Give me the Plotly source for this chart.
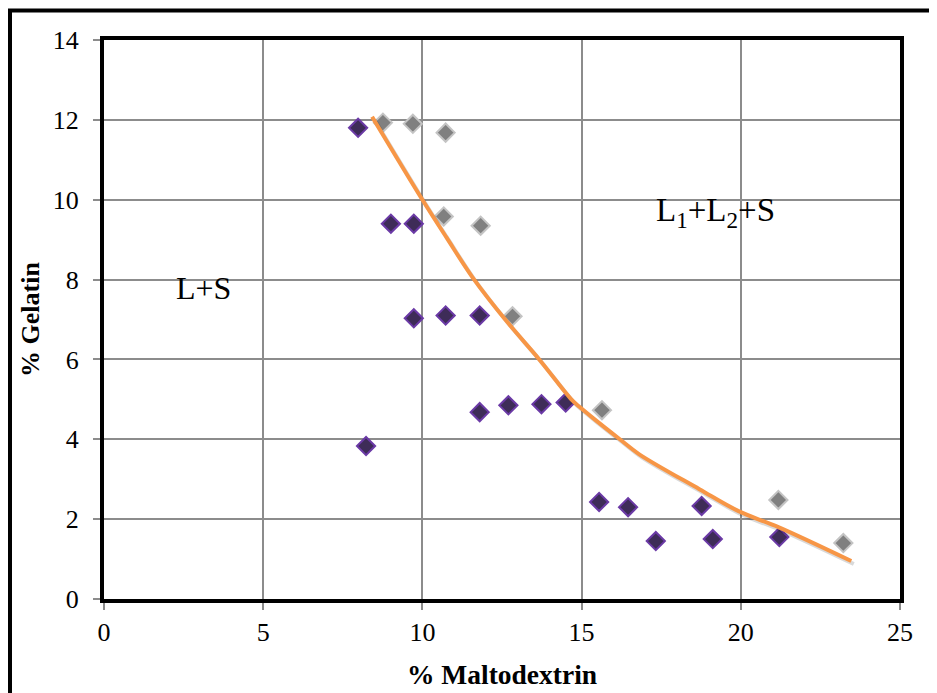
import plotly.graph_objects as go

# Data
purple_x = [7.98, 9.01, 9.73, 9.73, 10.73, 11.80, 11.80, 12.70, 13.74, 14.50, 8.23, 15.55, 16.46, 17.33, 18.77, 19.12, 21.21]
purple_y = [11.80, 9.40, 9.40, 7.03, 7.10, 7.10, 4.68, 4.85, 4.88, 4.92, 3.83, 2.43, 2.30, 1.45, 2.33, 1.50, 1.55]

gray_x = [8.76, 9.70, 10.73, 10.67, 11.83, 12.83, 15.64, 21.18, 23.22]
gray_y = [11.93, 11.90, 11.68, 9.58, 9.35, 7.08, 4.73, 2.48, 1.40]

curve_x = [8.42, 10.0, 10.76, 11.58, 12.64, 13.67, 14.7, 14.95, 15.36, 16.2, 16.8, 18.7, 19.93, 21.18, 23.47]
curve_y = [12.08, 10.0, 9.05, 8.05, 6.96, 6.0, 4.98, 4.80, 4.53, 4.0, 3.63, 2.75, 2.2, 1.8, 0.95]

x_ticks = [0, 5, 10, 15, 20, 25]
y_ticks = [0, 2, 4, 6, 8, 10, 12, 14]

FONT = "Liberation Serif"

# page offset (body margin) = 8 px
OFF = 8
W, H = 937 - OFF, 693 - OFF
L, T = 104 - OFF, 40 - OFF
PW, PH = 796, 559

fig = go.Figure()

fig.add_trace(go.Scatter(
    x=purple_x, y=purple_y, mode="markers",
    marker=dict(symbol="diamond", size=14, color="#3e2c58",
                line=dict(color="#6b3aa6", width=2)),
    showlegend=False))

fig.add_trace(go.Scatter(
    x=gray_x, y=gray_y, mode="markers",
    marker=dict(symbol="diamond", size=14, color="#808080",
                line=dict(color="#c4c4c4", width=2)),
    showlegend=False))

# soft shadow of the curve (drawn on shifted overlay axes)
fig.add_trace(go.Scatter(
    x=curve_x, y=curve_y, mode="lines", xaxis="x2", yaxis="y2",
    line=dict(color="rgba(0,0,0,0.15)", width=4, shape="spline", smoothing=1.0),
    hoverinfo="skip", showlegend=False))

fig.add_trace(go.Scatter(
    x=curve_x, y=curve_y, mode="lines", xaxis="x3", yaxis="y3",
    line=dict(color="#f79646", width=4, shape="spline", smoothing=1.0),
    showlegend=False))

px_per_x = PW / 25
px_per_y = PH / 14
dx = 2.5 / px_per_x
dy = 3 / px_per_y

axis_common = dict(
    showgrid=True, gridcolor="#8c8c8c", gridwidth=1.5,
    showline=True, linecolor="black", linewidth=4, mirror=True,
    ticks="outside", ticklen=7, tickcolor="#8c8c8c", tickwidth=1.5,
    zeroline=False, tickfont=dict(family=FONT, size=26), automargin=False,
)

fig.update_layout(
    width=W, height=H,
    margin=dict(l=L, r=W - L - PW, t=T, b=H - T - PH),
    paper_bgcolor="white", plot_bgcolor="white",
    font=dict(family=FONT, size=26, color="black"),
    xaxis=dict(range=[0, 25], tickvals=x_ticks, ticktext=[str(v) for v in x_ticks],
               title=dict(text="<b>% Maltodextrin</b>", font=dict(family=FONT, size=27.5), standoff=20),
               **axis_common),
    yaxis=dict(range=[0, 14], tickvals=y_ticks, ticktext=[str(v) for v in y_ticks],
               ticklabelstandoff=9,
               title=dict(text="<b>% Gelatin</b>", font=dict(family=FONT, size=26), standoff=7),
               **axis_common),
    xaxis2=dict(range=[0 - dx, 25 - dx], overlaying="x", visible=False),
    yaxis2=dict(range=[0 + dy, 14 + dy], overlaying="y", visible=False),
    xaxis3=dict(range=[0, 25], overlaying="x", visible=False),
    yaxis3=dict(range=[0, 14], overlaying="y", visible=False),
    annotations=[
        dict(x=3.11, y=7.79, xref="x", yref="y", text="L+S", showarrow=False,
             font=dict(family=FONT, size=32)),
        dict(x=19.22, y=9.67, xref="x", yref="y", text="L<sub>1</sub>+L<sub>2</sub>+S",
             showarrow=False, font=dict(family=FONT, size=33)),
    ],
    shapes=[
        dict(type="rect", xref="paper", yref="paper",
             x0=(10 - 104) / PW, x1=(960 - 104) / PW,
             y0=(599 - 720) / PH, y1=(599 - 10.5) / PH,
             line=dict(color="black", width=4), fillcolor="rgba(0,0,0,0)", layer="above"),
    ],
)

fig.write_html("out.html")
